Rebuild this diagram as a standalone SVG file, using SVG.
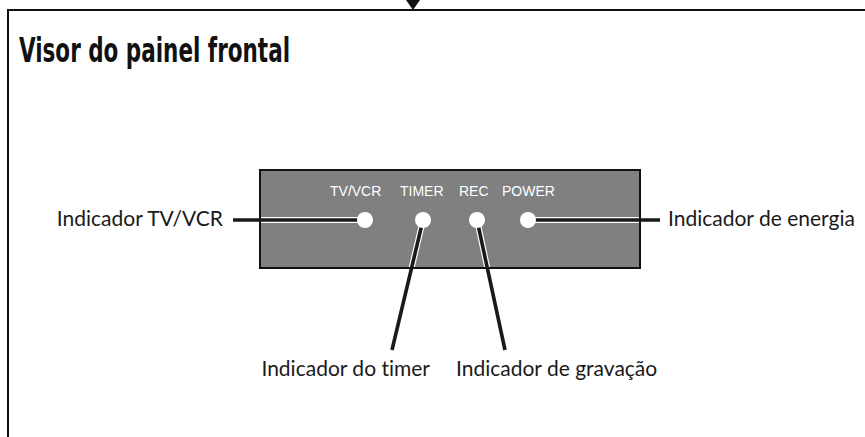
<svg xmlns="http://www.w3.org/2000/svg" width="865" height="437" viewBox="0 0 865 437">
<style>
.lbl{font-family:Lato,"Open Sans","Liberation Sans",sans-serif;font-size:21px;fill:#1a1a1a;font-variant-ligatures:none}
.pl{font-family:"Liberation Sans",Arial,sans-serif;font-size:14px;fill:#fff}
.case{stroke:#fff;stroke-width:6;fill:none}
.ln{stroke:#1a1a1a;stroke-width:3.6;fill:none}
.dot{fill:#fff}
</style>
<defs>
<clipPath id="pc"><rect x="261" y="171" width="378" height="96"/></clipPath>
</defs>
<rect width="865" height="437" fill="#fff"/>
<g id="frame">
<path d="M8 437 V10 H865" fill="none" stroke="#111" stroke-width="2"/>
<polygon points="406,0 420,0 413,10" fill="#111"/>
</g>
<text x="19" y="62" font-family="'Liberation Sans Narrow','DejaVu Sans Condensed',sans-serif" font-weight="bold" font-size="33" textLength="271" lengthAdjust="spacingAndGlyphs" fill="#111">Visor do painel frontal</text>
<g id="panel">
<rect x="260" y="170" width="380" height="98" fill="#808080" stroke="#111" stroke-width="2"/>
<text class="pl" x="330" y="196">TV/VCR</text>
<text class="pl" x="400" y="196">TIMER</text>
<text class="pl" x="459" y="196">REC</text>
<text class="pl" x="502" y="196">POWER</text>
</g>
<g id="connectors">
<path class="case" clip-path="url(#pc)" d="M250 220 H365 M528 220 H650 M423 220 L392 350 M477 220 L505 350"/>
<path class="ln" d="M233 220 H365 M528 220 H660 M423 220 L392 350 M477 220 L505 350"/>
</g>
<g id="dots">
<circle class="dot" cx="365" cy="220" r="8"/>
<circle class="dot" cx="423" cy="220" r="8"/>
<circle class="dot" cx="477" cy="220" r="8"/>
<circle class="dot" cx="528" cy="220" r="8"/>
</g>
<g id="label-tvvcr"><text class="lbl" x="223" y="226" text-anchor="end">Indicador TV/VCR</text></g>
<g id="label-energia"><text class="lbl" x="668" y="226">Indicador de energia</text></g>
<g id="label-timer"><text class="lbl" x="430" y="376" text-anchor="end">Indicador do timer</text></g>
<g id="label-gravacao"><text class="lbl" x="456" y="376">Indicador de gravação</text></g>
</svg>
